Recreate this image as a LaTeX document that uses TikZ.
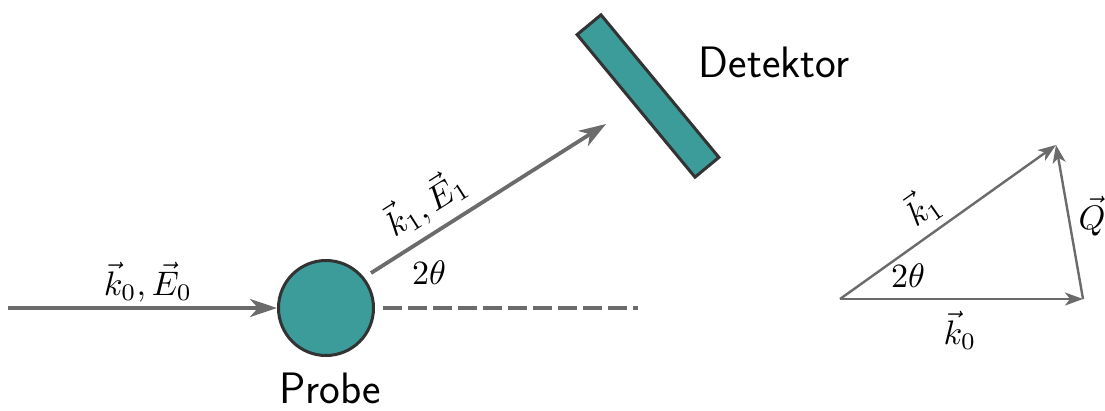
\documentclass[tikz,border=0pt]{standalone}
\usetikzlibrary{arrows.meta}
\definecolor{tealfill}{HTML}{3B9C9A}
\definecolor{edgecol}{HTML}{333333}
\definecolor{raycol}{HTML}{6B6B6B}
\begin{document}
\begin{tikzpicture}[x=1pt,y=-1pt,
  raybig/.style={draw=raycol,line width=3.8pt,-{Stealth[length=27pt,width=18pt,inset=8pt]}},
  raysmall/.style={draw=raycol,line width=2.4pt,-{Stealth[length=18pt,width=13pt,inset=5pt]}},
  rayplain/.style={draw=raycol,line width=3.8pt},
  lbl/.style={font=\fontsize{10}{12}\selectfont, inner sep=0pt, scale=3.4, transform shape},
  word/.style={font=\sffamily\fontsize{44}{52}\selectfont, inner sep=0pt},
  body/.style={draw=edgecol, line width=3pt, fill=tealfill, inner sep=0pt}]
\useasboundingbox (0,0) rectangle (1105,410);
% sample
\node[body, circle, minimum size=95pt] (probe) at (326,308) {};
\node[word] (probelbl) at (330,388) {Probe};
% detector
\node[body, rectangle, minimum width=185pt, minimum height=31pt, rotate=-50.4] (det) at (648,96) {};
\node[word] (detlbl) at (774,62) {Detektor};
% incoming beam
\coordinate (inA) at (8,308);
\draw[raybig] (inA) -- (probe.west);
\node[lbl] (lk0E0) at (148,282) {$\vec{k}_0,\vec{E}_0$};
% dashed continuation
\coordinate (dA) at (383,308);
\coordinate (dB) at (638,308);
\draw[rayplain, dash pattern=on 19pt off 6pt] (dA) -- (dB);
% scattered beam
\coordinate (sA) at (371,273);
\coordinate (sB) at (606,124);
\draw[raybig] (sA) -- (sB);
\node[lbl, rotate=32.5] (lk1E1) at (425,203) {$\vec{k}_1,\vec{E}_1$};
\node[lbl] (ang1) at (429,273) {$2\theta$};
% scattering triangle
\coordinate (tO) at (840,299);
\coordinate (tR) at (1083,299);
\coordinate (tT) at (1056,145);
\draw[raysmall] (tO) -- (tR);
\draw[raysmall] (tO) -- (tT);
\draw[raysmall] (tR) -- (tT);
\node[lbl, rotate=35] (tk1) at (922,207) {$\vec{k}_1$};
\node[lbl] (ang2) at (908,276) {$2\theta$};
\node[lbl] (tk0) at (960,330) {$\vec{k}_0$};
\node[lbl] (tQ) at (1092,216) {$\vec{Q}$};
\end{tikzpicture}
\end{document}
